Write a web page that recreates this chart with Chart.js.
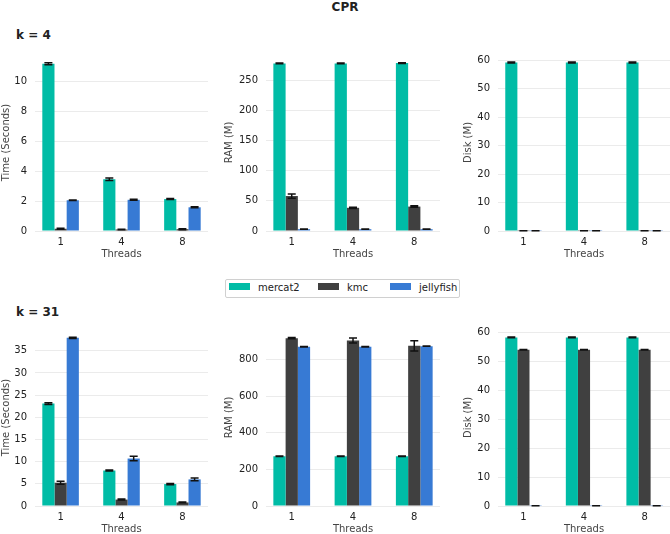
<!DOCTYPE html>
<html>
<head>
<meta charset="utf-8">
<script src="https://cdn.jsdelivr.net/npm/chart.js@4"></script>
<style>
  body { margin: 0; width: 670px; height: 534px; overflow: hidden; background: #fff; font-family: 'DejaVu Sans', sans-serif; position: relative; }
  canvas { position: absolute; }
  .lbl { position: absolute; font-weight: bold; color: #222; white-space: nowrap; }
  #legend { position: absolute; left: 225px; top: 279px; width: 233px; height: 17px; border: 1px solid #d0d0d0; border-radius: 2px; font-size: 10px; color: #222; }
  #legend span.item { position: absolute; top: 2px; }
  #legend i { display: inline-block; width: 21px; height: 7px; margin-right: 8px; vertical-align: 1px; }
</style>
</head>
<body>
<div class="lbl" style="left:0;width:690px;top:0;text-align:center;font-size:12px;">CPR</div>
<div class="lbl" style="left:16px;top:28px;font-size:12px;">k = 4</div>
<div class="lbl" style="left:16px;top:305px;font-size:12px;">k = 31</div>
<div id="legend"></div>

<canvas id="t4" width="208" height="225" style="left:0;top:40px"></canvas>
<canvas id="r4" width="220" height="225" style="left:220px;top:40px"></canvas>
<canvas id="d4" width="220" height="225" style="left:450px;top:40px"></canvas>
<canvas id="t31" width="208" height="225" style="left:0;top:315px"></canvas>
<canvas id="r31" width="220" height="225" style="left:220px;top:315px"></canvas>
<canvas id="d31" width="220" height="225" style="left:450px;top:315px"></canvas>

<script>
// categories and series
const threads = ['1', '4', '8'];
const series = ['mercat2', 'kmc', 'jellyfish'];
const colors = ['#00bca6', '#404040', '#377ad4'];

// k = 4  (rows: mercat2, kmc, jellyfish)
const k4Time = [[11.15, 3.45, 2.13], [0.15, 0.1, 0.12], [2.05, 2.08, 1.58]];
const k4TimeErr = [[0.07, 0.09, 0.03], [0.03, 0.02, 0.03], [0.02, 0.03, 0.03]];
const k4Ram = [[278, 278, 278.5], [58, 38.5, 40.5], [3, 3, 3]];
const k4RamErr = [[0.5, 0.5, 0.5], [3.5, 1, 1.2], [0.3, 0.3, 0.3]];
const k4Disk = [[59.2, 59.2, 59.2], [0.05, 0.05, 0.05], [0.05, 0.05, 0.05]];
const k4DiskErr = [[0.15, 0.15, 0.15], [0, 0, 0], [0, 0, 0]];

// k = 31
const k31Time = [[23.1, 8.0, 4.95], [5.25, 1.45, 0.8], [37.9, 10.7, 6.0]];
const k31TimeErr = [[0.2, 0.1, 0.15], [0.35, 0.1, 0.08], [0.15, 0.5, 0.3]];
const k31Ram = [[272, 272, 272], [918, 905, 876], [871, 871, 874]];
const k31RamErr = [[1, 1, 1], [4, 14, 28], [1, 1, 1]];
const k31Disk = [[58.3, 58.3, 58.3], [54, 54, 54], [0.05, 0.05, 0.05]];
const k31DiskErr = [[0.1, 0.1, 0.1], [0.1, 0.1, 0.1], [0, 0, 0]];

Chart.defaults.font.family = "'DejaVu Sans', sans-serif";
Chart.defaults.font.size = 10;

// draw the black error bars on top of the bars
const errorBars = {
    id: 'errorBars',
    afterDatasetsDraw(chart) {
        const ctx = chart.ctx;
        const y = chart.scales.y;
        ctx.save();
        ctx.strokeStyle = '#111';
        ctx.lineWidth = 1.5;
        chart.data.datasets.forEach((ds, d) => {
            chart.getDatasetMeta(d).data.forEach((bar, i) => {
                const v = ds.data[i].y, e = ds.errors[i];
                const top = y.getPixelForValue(v + e);
                const bot = y.getPixelForValue(v - e);
                ctx.beginPath();
                ctx.moveTo(bar.x, top); ctx.lineTo(bar.x, bot);
                ctx.moveTo(bar.x - 4, top); ctx.lineTo(bar.x + 4, top);
                ctx.moveTo(bar.x - 4, bot); ctx.lineTo(bar.x + 4, bot);
                ctx.stroke();
            });
        });
        ctx.restore();
    }
};

function panel(id, vals, errs, yTitle, yMax, yStep, axisW, titlePad, padTop) {
    new Chart(document.getElementById(id), {
        type: 'bar',
        data: {
            datasets: series.map((name, s) => ({
                label: name,
                data: vals[s].map((v, i) => ({ x: i, y: v })),
                errors: errs[s],
                backgroundColor: colors[s],
                borderWidth: 0,
                categoryPercentage: 0.6,
                barPercentage: 1
            }))
        },
        options: {
            responsive: false,
            animation: false,
            layout: { padding: { top: padTop, right: 0, bottom: 0, left: 0 } },
            plugins: { legend: { display: false }, tooltip: { enabled: false } },
            scales: {
                x: {
                    type: 'linear',
                    offset: false,
                    min: -0.42,
                    max: 2.42,
                    afterBuildTicks: s => { s.ticks = threads.map((_, i) => ({ value: i })); },
                    afterFit: s => { s.height = 34; },
                    grid: { display: false, drawTicks: false, tickLength: 0 },
                    border: { display: false },
                    ticks: { color: '#222', padding: 5, callback: v => threads[v] },
                    title: { display: true, text: 'Threads', color: '#444', padding: { top: 0, bottom: 5 } }
                },
                y: {
                    min: 0,
                    max: yMax,
                    afterBuildTicks: s => {
                        const t = [];
                        for (let k = 0; k * yStep <= yMax; k++) t.push({ value: k * yStep });
                        s.ticks = t;
                    },
                    afterFit: s => { s.width = axisW; },
                    grid: { color: '#ebebeb', drawTicks: false },
                    border: { display: false },
                    ticks: { color: '#222', padding: 8 },
                    title: { display: true, text: yTitle, color: '#444', padding: { top: titlePad, bottom: 0 } }
                }
            }
        },
        plugins: [errorBars]
    });
}

panel('t4', k4Time, k4TimeErr, 'Time (Seconds)', 11.8, 2, 35, 0, 7);
panel('r4', k4Ram, k4RamErr, 'RAM (M)', 293.6, 50, 46, 3, 7);
panel('d4', k4Disk, k4DiskErr, 'Disk (M)', 62.2, 10, 48, 12, 7);
panel('t31', k31Time, k31TimeErr, 'Time (Seconds)', 39.9, 5, 35, 0, 8);
panel('r31', k31Ram, k31RamErr, 'RAM (M)', 968, 200, 46, 3, 8);
panel('d31', k31Disk, k31DiskErr, 'Disk (M)', 61.2, 10, 48, 12, 8);

// legend
const lg = document.getElementById('legend');
const lx = [3, 92, 164];
series.forEach((name, s) => {
    const it = document.createElement('span');
    it.className = 'item';
    it.style.left = lx[s] + 'px';
    it.innerHTML = '<i style="background:' + colors[s] + '"></i>' + name;
    lg.appendChild(it);
});
</script>
</body>
</html>
